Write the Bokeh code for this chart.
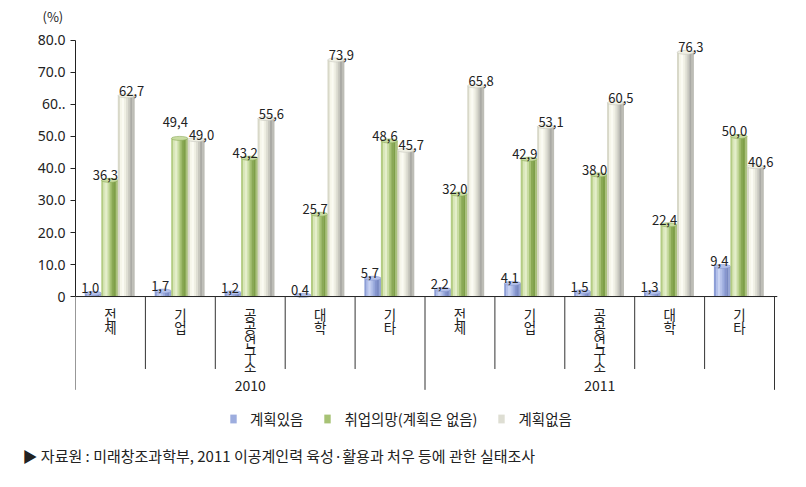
from bokeh.plotting import figure
from bokeh.models import Range1d, FixedTicker, Legend, LegendItem, Title
from bokeh.core.properties import value
from bokeh.embed import file_html
from bokeh.resources import INLINE

# ---------------- data ----------------
years = ["2010", "2011"]
categories = ["전체", "기업", "공공연구소", "대학", "기타"]
series_names = ["계획있음", "취업의망(계획은 없음)", "계획없음"]
planned = [1.0, 1.7, 1.2, 0.4, 5.7, 2.2, 4.1, 1.5, 1.3, 9.4]
willing = [36.3, 49.4, 43.2, 25.7, 48.6, 32.0, 42.9, 38.0, 22.4, 50.0]
no_plan = [62.7, 49.0, 55.6, 73.9, 45.7, 65.8, 53.1, 60.5, 76.3, 40.6]
y_ticks = [0, 10, 20, 30, 40, 50, 60, 70, 80]
y_tick_labels = ["0", "10.0", "20.0", "30.0", "40.0", "50.0", "60..", "70.0", "80.0"]
unit_label = "(%)"
source_note = "▶ 자료원 : 미래창조과학부, 2011 이공계인력 육성·활용과 처우 등에 관한 실태조사"

# ---------------- geometry ----------------
W, H = 806, 487
LEFT = 75                 # frame left (pixels)
TOP = 26                  # frame top (pixels)
BOTTOM = 436              # frame bottom (pixels)
PX = 69.9                 # pixels per category
PY = 3.225                # pixels per percent
Y0 = 295                  # pixel row of value 0
x_end = (W - LEFT) / PX
y_top = (Y0 - TOP) / PY
y_bot = -(BOTTOM - Y0) / PY

def ypx(px):
    """pixel row -> data y"""
    return -(px - Y0) / PY

FONT = "Noto Sans CJK KR"
TXT = "#222222"

p = figure(width=W, height=H, output_backend="svg", toolbar_location=None,
           x_range=Range1d(0, x_end), y_range=Range1d(y_bot, y_top),
           min_border_left=LEFT, min_border_right=0, min_border_top=TOP,
           min_border_bottom=H - BOTTOM)
p.outline_line_color = None
p.background_fill_color = "white"
p.border_fill_color = "white"
p.xgrid.visible = False
p.ygrid.visible = False
p.xaxis.visible = False

# y axis
ya = p.yaxis[0]
ya.bounds = (0, 80)
ya.ticker = FixedTicker(ticks=y_ticks)
ya.major_label_overrides = {float(t): l for t, l in zip(y_ticks, y_tick_labels)}
ya.major_tick_in = 0
ya.major_tick_out = 5
ya.minor_tick_line_color = None
ya.axis_line_color = "#222222"
ya.major_tick_line_color = "#222222"
ya.major_label_text_font = "Noto Sans"
ya.major_label_text_font_size = "14px"
ya.major_label_text_color = TXT
ya.major_label_standoff = 5

# ---------------- bars (cylinders via shaded strips) ----------------
n_groups = len(planned)
centers = [j + 0.49 for j in range(n_groups)]
BW = 0.236
offsets = [-BW, 0.0, BW]
shades = [
    ["#8d9ed6", "#b3c0ea", "#c9d3f2", "#b4c1ea", "#9dadde", "#8696cf", "#7a8ac2", "#95a4d4"],
    ["#b4cc84", "#d9e7b8", "#e4eecb", "#c9dca2", "#a7c275", "#8aa955", "#7e9f48", "#a9c07c"],
    ["#d8d8c8", "#f6f6ea", "#fbfbf3", "#f0f0e4", "#deded3", "#c8c8bf", "#aaaaa5", "#bdbdb6"],
]
series_vals = [planned, willing, no_plan]
NS = len(shades[0])
sw = BW / NS
legend_renderers = []
for s, vals in enumerate(series_vals):
    rep = None
    for k, col in enumerate(shades[s]):
        xs = [c + offsets[s] + (k + 0.5 - NS / 2) * sw for c in centers]
        r = p.vbar(x=xs, top=vals, bottom=0, width=sw * 1.2, fill_color=col, line_color=None)
        if k == 4:
            rep = r
    # cylinder top
    p.ellipse(x=[c + offsets[s] for c in centers], y=vals, width=BW, height=4,
              height_units="screen", fill_color=shades[s][3], line_color=shades[s][5],
              line_width=0.6)
    legend_renderers.append(rep)

# ---------------- value labels ----------------
def fmt(v):
    return f"{v:.1f}".replace(".", ",")

lab_common = dict(text_font=value(FONT), text_font_size="13px", text_color=TXT,
                  text_baseline="alphabetic")
p.text(x=[c + offsets[0] for c in centers], y=planned, text=[fmt(v) for v in planned],
       text_align="center", x_offset=-3, y_offset=-5, **lab_common)
# green label lifted when it would sit level with the neighbouring grey label
green_dy = [-16 if (g >= n and g - n < 2) else -5 for g, n in zip(willing, no_plan)]
p.text(x=[c + BW / 2 for c in centers], y=willing, text=[fmt(v) for v in willing],
       text_align="right", x_offset=0, y_offset=green_dy, **lab_common)
p.text(x=[c + BW / 2 for c in centers], y=no_plan, text=[fmt(v) for v in no_plan],
       text_align="left", x_offset=1, y_offset=-5, **lab_common)

# ---------------- category axis (baseline, separators, labels) ----------------
p.segment(x0=[0], y0=[0], x1=[n_groups + 0.04], y1=[0], line_color="#222222", line_width=1)
sep_x = list(range(n_groups + 1))
long_sep = [x for x in sep_x if x % len(categories) == 0]
short_sep = [x for x in sep_x if x % len(categories) != 0]
p.segment(x0=short_sep, y0=[0] * len(short_sep), x1=short_sep, y1=[ypx(368)] * len(short_sep),
          line_color="#333333", line_width=1)
p.segment(x0=long_sep, y0=[0] * len(long_sep), x1=long_sep, y1=[ypx(389)] * len(long_sep),
          line_color="#333333", line_width=1)

# vertical (stacked) category labels, one character per row
cx, cy, ct = [], [], []
for j in range(n_groups):
    name = categories[j % len(categories)]
    for k, ch in enumerate(name):
        cx.append(j + 0.5)
        cy.append(ypx(313 + 13 * k))
        ct.append(ch)
p.text(x=cx, y=cy, text=ct, text_align="center", text_baseline="middle",
       text_font=value(FONT), text_font_size="13.5px", text_color=TXT)

p.text(x=[len(categories) * (i + 0.5) for i in range(len(years))], y=[ypx(385)] * len(years),
       text=years, text_align="center", text_baseline="middle",
       text_font=value(FONT), text_font_size="14px", text_color=TXT)

# ---------------- legend ----------------
legend = Legend(items=[LegendItem(label=n, renderers=[r]) for n, r in zip(series_names, legend_renderers)],
                orientation="horizontal", location=(229 - LEFT, BOTTOM - 429),
                glyph_width=8, glyph_height=11, label_standoff=13, spacing=20,
                padding=0, margin=0, border_line_alpha=0, background_fill_alpha=0,
                label_text_font=FONT, label_text_font_size="14.5px", label_text_color=TXT,
                label_height=16)
p.add_layout(legend, "center")

# ---------------- unit and source (side-panel titles, not clipped) ----------------
p.add_layout(Title(text=unit_label, align="left", offset=42 - LEFT, standoff=8,
                   text_font=FONT, text_font_size="13px", text_font_style="normal",
                   text_color=TXT), "above")
p.add_layout(Title(text=source_note, align="left", offset=22 - LEFT, standoff=16,
                   vertical_align="top", text_font=FONT, text_font_size="15px",
                   text_font_style="normal", text_color=TXT), "below")

open("out.html", "w").write(file_html(p, INLINE))
